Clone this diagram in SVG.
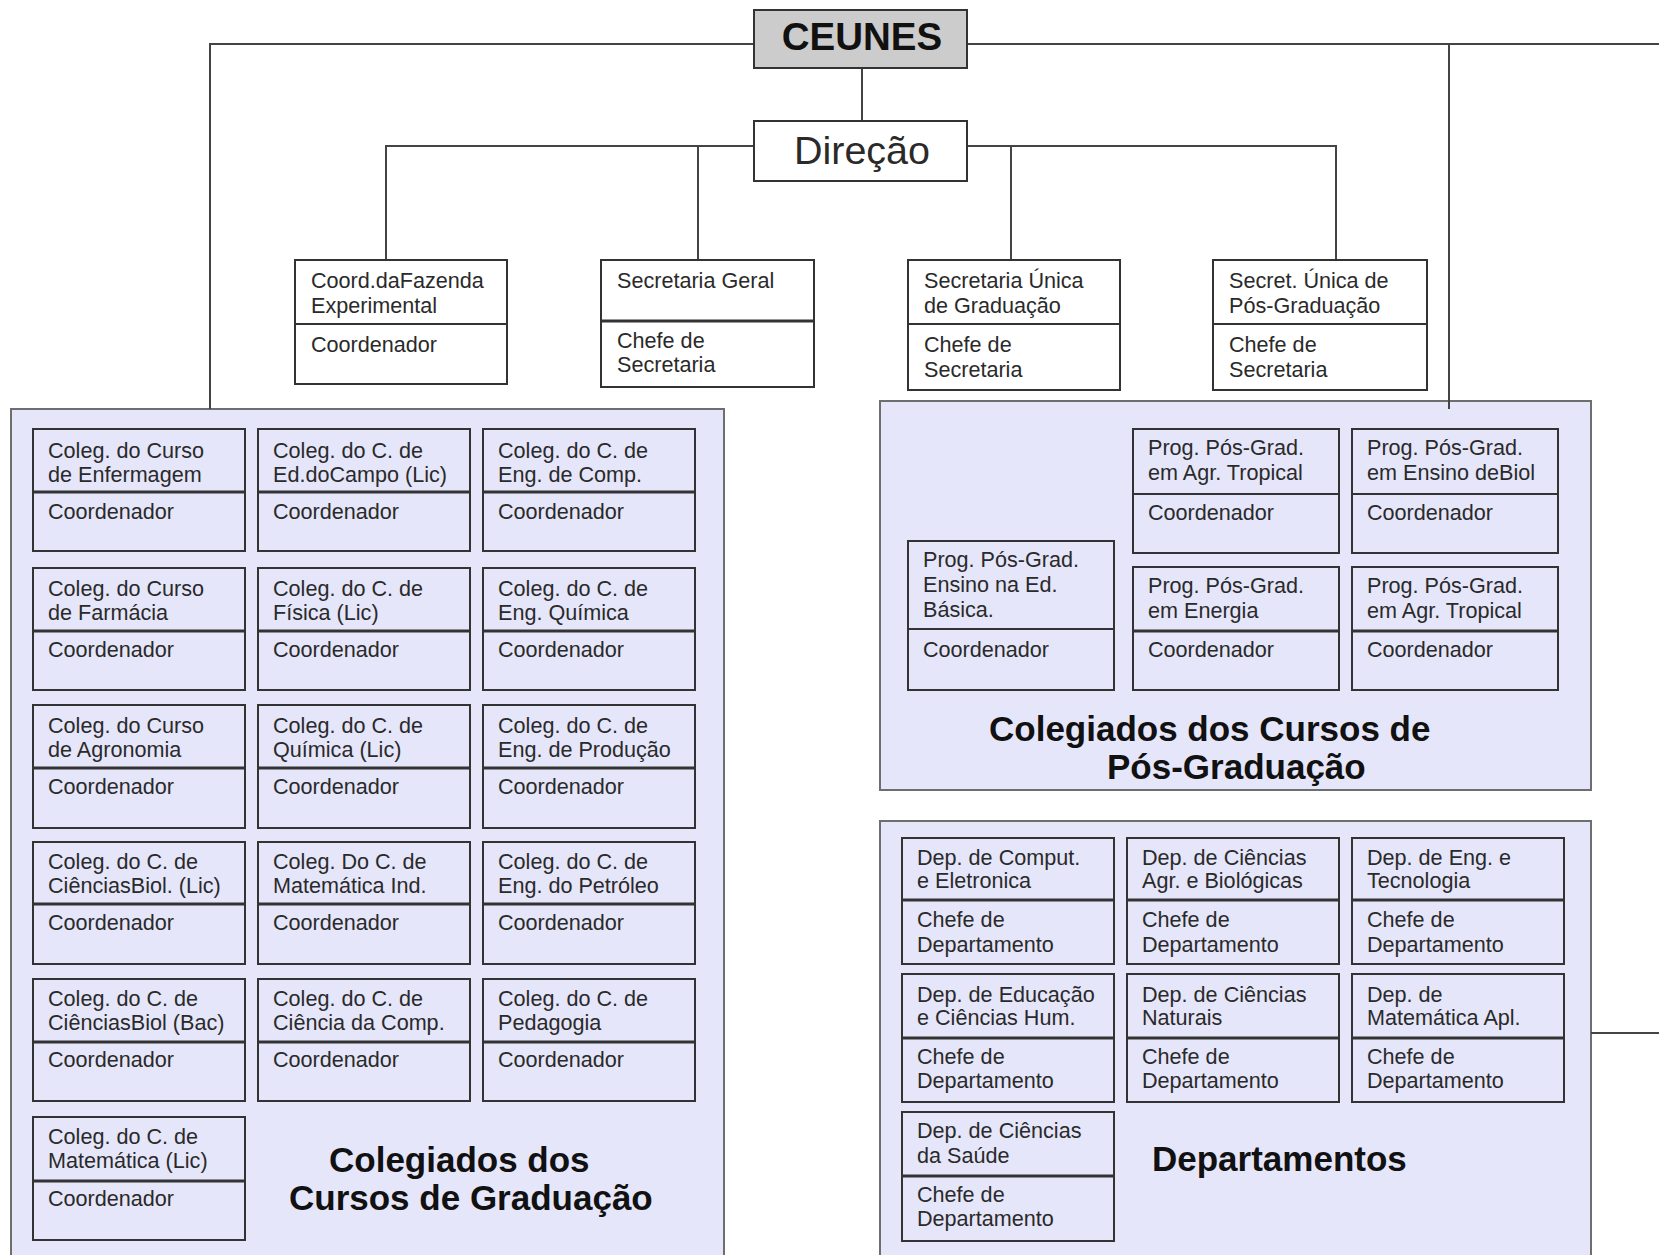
<svg xmlns="http://www.w3.org/2000/svg" width="1659" height="1255" viewBox="0 0 1659 1255">
<style>
text{font-family:"Liberation Sans",Arial,sans-serif;fill:#2a2a2a}
.t{font-size:21.6px}
.title{font-size:35px;font-weight:bold;fill:#111}
.cont{fill:#e6e6fa;stroke:#6e6e6e;stroke-width:2}
.box{fill:none;stroke:#333;stroke-width:2}
.wbox{fill:#fff;stroke:#333;stroke-width:2}
.dv{stroke:#333;stroke-width:3}
.dvt{stroke:#333;stroke-width:2}
.con{fill:none;stroke:#444;stroke-width:2}
</style>
<rect width="1659" height="1255" fill="#fff"/>

<g id="cont-grad">
<rect class="cont" x="11" y="409" width="713" height="860"/>
<text class="title" x="329" y="1172">Colegiados dos</text>
<text class="title" x="289" y="1210">Cursos de Graduação</text>
</g>
<g id="cont-pos">
<rect class="cont" x="880" y="401" width="711" height="389"/>
<text class="title" x="989" y="741">Colegiados dos Cursos de</text>
<text class="title" x="1107" y="779">Pós-Graduação</text>
</g>
<g id="cont-dep">
<rect class="cont" x="880" y="821" width="711" height="450"/>
<text class="title" x="1152" y="1171">Departamentos</text>
</g>

<g id="connectors">
<path class="con" d="M210 409V44H754"/>
<path class="con" d="M967 44H1659"/>
<path class="con" d="M1449 44V409"/>
<path class="con" d="M862 68V121"/>
<path class="con" d="M386 260V146H754"/>
<path class="con" d="M698 146V260"/>
<path class="con" d="M967 146H1336V260"/>
<path class="con" d="M1011 146V260"/>
<path class="con" d="M1591 1033H1659"/>
</g>

<g id="ceunes">
<rect x="754" y="10" width="213" height="58" fill="#cccccc" stroke="#333" stroke-width="2"/>
<text x="862" y="50" text-anchor="middle" style="font-size:38.5px;font-weight:bold;fill:#111">CEUNES</text>
</g>
<g id="direcao">
<rect class="wbox" x="754" y="121" width="213" height="60"/>
<text x="862" y="164" text-anchor="middle" style="font-size:39.5px">Direção</text>
</g>

<g id="coord-fazenda">
<rect class="wbox" x="295" y="260" width="212" height="124"/>
<line class="dvt" x1="295" y1="324" x2="507" y2="324"/>
<text class="t" x="311" y="288">Coord.daFazenda</text>
<text class="t" x="311" y="313">Experimental</text>
<text class="t" x="311" y="352">Coordenador</text>
</g>
<g id="sec-geral">
<rect class="wbox" x="601" y="260" width="213" height="127"/>
<line class="dv" x1="601" y1="321" x2="814" y2="321"/>
<text class="t" x="617" y="288">Secretaria Geral</text>
<text class="t" x="617" y="348">Chefe de</text>
<text class="t" x="617" y="372">Secretaria</text>
</g>
<g id="sec-grad">
<rect class="wbox" x="908" y="260" width="212" height="130"/>
<line class="dvt" x1="908" y1="324" x2="1120" y2="324"/>
<text class="t" x="924" y="288">Secretaria Única</text>
<text class="t" x="924" y="313">de Graduação</text>
<text class="t" x="924" y="352">Chefe de</text>
<text class="t" x="924" y="377">Secretaria</text>
</g>
<g id="sec-pos">
<rect class="wbox" x="1213" y="260" width="214" height="130"/>
<line class="dvt" x1="1213" y1="324" x2="1427" y2="324"/>
<text class="t" x="1229" y="288">Secret. Única de</text>
<text class="t" x="1229" y="313">Pós-Graduação</text>
<text class="t" x="1229" y="352">Chefe de</text>
<text class="t" x="1229" y="377">Secretaria</text>
</g>

<!-- Graduação colegiados -->
<g id="g-enf"><rect class="box" x="33" y="429" width="212" height="122"/><line class="dv" x1="33" y1="492" x2="245" y2="492"/><text class="t" x="48" y="458">Coleg. do Curso</text><text class="t" x="48" y="482">de Enfermagem</text><text class="t" x="48" y="519">Coordenador</text></g>
<g id="g-edcampo"><rect class="box" x="258" y="429" width="212" height="122"/><line class="dv" x1="258" y1="492" x2="470" y2="492"/><text class="t" x="273" y="458">Coleg. do C. de</text><text class="t" x="273" y="482">Ed.doCampo (Lic)</text><text class="t" x="273" y="519">Coordenador</text></g>
<g id="g-engcomp"><rect class="box" x="483" y="429" width="212" height="122"/><line class="dv" x1="483" y1="492" x2="695" y2="492"/><text class="t" x="498" y="458">Coleg. do C. de</text><text class="t" x="498" y="482">Eng. de Comp.</text><text class="t" x="498" y="519">Coordenador</text></g>

<g id="g-farm"><rect class="box" x="33" y="568" width="212" height="122"/><line class="dv" x1="33" y1="631" x2="245" y2="631"/><text class="t" x="48" y="596">Coleg. do Curso</text><text class="t" x="48" y="620">de Farmácia</text><text class="t" x="48" y="657">Coordenador</text></g>
<g id="g-fis"><rect class="box" x="258" y="568" width="212" height="122"/><line class="dv" x1="258" y1="631" x2="470" y2="631"/><text class="t" x="273" y="596">Coleg. do C. de</text><text class="t" x="273" y="620">Física (Lic)</text><text class="t" x="273" y="657">Coordenador</text></g>
<g id="g-engq"><rect class="box" x="483" y="568" width="212" height="122"/><line class="dv" x1="483" y1="631" x2="695" y2="631"/><text class="t" x="498" y="596">Coleg. do C. de</text><text class="t" x="498" y="620">Eng. Química</text><text class="t" x="498" y="657">Coordenador</text></g>

<g id="g-agro"><rect class="box" x="33" y="705" width="212" height="123"/><line class="dv" x1="33" y1="768" x2="245" y2="768"/><text class="t" x="48" y="733">Coleg. do Curso</text><text class="t" x="48" y="757">de Agronomia</text><text class="t" x="48" y="794">Coordenador</text></g>
<g id="g-quim"><rect class="box" x="258" y="705" width="212" height="123"/><line class="dv" x1="258" y1="768" x2="470" y2="768"/><text class="t" x="273" y="733">Coleg. do C. de</text><text class="t" x="273" y="757">Química (Lic)</text><text class="t" x="273" y="794">Coordenador</text></g>
<g id="g-engprod"><rect class="box" x="483" y="705" width="212" height="123"/><line class="dv" x1="483" y1="768" x2="695" y2="768"/><text class="t" x="498" y="733">Coleg. do C. de</text><text class="t" x="498" y="757">Eng. de Produção</text><text class="t" x="498" y="794">Coordenador</text></g>

<g id="g-biollic"><rect class="box" x="33" y="842" width="212" height="122"/><line class="dv" x1="33" y1="904" x2="245" y2="904"/><text class="t" x="48" y="869">Coleg. do C. de</text><text class="t" x="48" y="893">CiênciasBiol. (Lic)</text><text class="t" x="48" y="930">Coordenador</text></g>
<g id="g-matind"><rect class="box" x="258" y="842" width="212" height="122"/><line class="dv" x1="258" y1="904" x2="470" y2="904"/><text class="t" x="273" y="869">Coleg. Do C. de</text><text class="t" x="273" y="893">Matemática Ind.</text><text class="t" x="273" y="930">Coordenador</text></g>
<g id="g-petro"><rect class="box" x="483" y="842" width="212" height="122"/><line class="dv" x1="483" y1="904" x2="695" y2="904"/><text class="t" x="498" y="869">Coleg. do C. de</text><text class="t" x="498" y="893">Eng. do Petróleo</text><text class="t" x="498" y="930">Coordenador</text></g>

<g id="g-biolbac"><rect class="box" x="33" y="979" width="212" height="122"/><line class="dv" x1="33" y1="1042" x2="245" y2="1042"/><text class="t" x="48" y="1006">Coleg. do C. de</text><text class="t" x="48" y="1030">CiênciasBiol (Bac)</text><text class="t" x="48" y="1067">Coordenador</text></g>
<g id="g-cc"><rect class="box" x="258" y="979" width="212" height="122"/><line class="dv" x1="258" y1="1042" x2="470" y2="1042"/><text class="t" x="273" y="1006">Coleg. do C. de</text><text class="t" x="273" y="1030">Ciência da Comp.</text><text class="t" x="273" y="1067">Coordenador</text></g>
<g id="g-ped"><rect class="box" x="483" y="979" width="212" height="122"/><line class="dv" x1="483" y1="1042" x2="695" y2="1042"/><text class="t" x="498" y="1006">Coleg. do C. de</text><text class="t" x="498" y="1030">Pedagogia</text><text class="t" x="498" y="1067">Coordenador</text></g>

<g id="g-matlic"><rect class="box" x="33" y="1117" width="212" height="123"/><line class="dv" x1="33" y1="1181" x2="245" y2="1181"/><text class="t" x="48" y="1144">Coleg. do C. de</text><text class="t" x="48" y="1168">Matemática (Lic)</text><text class="t" x="48" y="1206">Coordenador</text></g>

<!-- Pós-graduação -->
<g id="p-edbas"><rect class="box" x="908" y="541" width="206" height="149"/><line class="dvt" x1="908" y1="629" x2="1114" y2="629"/><text class="t" x="923" y="567">Prog. Pós-Grad.</text><text class="t" x="923" y="592">Ensino na Ed.</text><text class="t" x="923" y="617">Básica.</text><text class="t" x="923" y="657">Coordenador</text></g>
<g id="p-agr1"><rect class="box" x="1133" y="429" width="206" height="124"/><line class="dvt" x1="1133" y1="494" x2="1339" y2="494"/><text class="t" x="1148" y="455">Prog. Pós-Grad.</text><text class="t" x="1148" y="480">em Agr. Tropical</text><text class="t" x="1148" y="520">Coordenador</text></g>
<g id="p-biol"><rect class="box" x="1352" y="429" width="206" height="124"/><line class="dvt" x1="1352" y1="494" x2="1558" y2="494"/><text class="t" x="1367" y="455">Prog. Pós-Grad.</text><text class="t" x="1367" y="480">em Ensino deBiol</text><text class="t" x="1367" y="520">Coordenador</text></g>
<g id="p-energia"><rect class="box" x="1133" y="567" width="206" height="123"/><line class="dv" x1="1133" y1="631" x2="1339" y2="631"/><text class="t" x="1148" y="593">Prog. Pós-Grad.</text><text class="t" x="1148" y="618">em Energia</text><text class="t" x="1148" y="657">Coordenador</text></g>
<g id="p-agr2"><rect class="box" x="1352" y="567" width="206" height="123"/><line class="dv" x1="1352" y1="631" x2="1558" y2="631"/><text class="t" x="1367" y="593">Prog. Pós-Grad.</text><text class="t" x="1367" y="618">em Agr. Tropical</text><text class="t" x="1367" y="657">Coordenador</text></g>

<!-- Departamentos -->
<g id="d-comp"><rect class="box" x="902" y="838" width="212" height="126"/><line class="dv" x1="902" y1="900" x2="1114" y2="900"/><text class="t" x="917" y="865">Dep. de Comput.</text><text class="t" x="917" y="888">e Eletronica</text><text class="t" x="917" y="927">Chefe de</text><text class="t" x="917" y="952">Departamento</text></g>
<g id="d-agr"><rect class="box" x="1127" y="838" width="212" height="126"/><line class="dv" x1="1127" y1="900" x2="1339" y2="900"/><text class="t" x="1142" y="865">Dep. de Ciências</text><text class="t" x="1142" y="888">Agr. e Biológicas</text><text class="t" x="1142" y="927">Chefe de</text><text class="t" x="1142" y="952">Departamento</text></g>
<g id="d-eng"><rect class="box" x="1352" y="838" width="212" height="126"/><line class="dv" x1="1352" y1="900" x2="1564" y2="900"/><text class="t" x="1367" y="865">Dep. de Eng. e</text><text class="t" x="1367" y="888">Tecnologia</text><text class="t" x="1367" y="927">Chefe de</text><text class="t" x="1367" y="952">Departamento</text></g>
<g id="d-edu"><rect class="box" x="902" y="974" width="212" height="128"/><line class="dv" x1="902" y1="1038" x2="1114" y2="1038"/><text class="t" x="917" y="1002">Dep. de Educação</text><text class="t" x="917" y="1025">e Ciências Hum.</text><text class="t" x="917" y="1064">Chefe de</text><text class="t" x="917" y="1088">Departamento</text></g>
<g id="d-nat"><rect class="box" x="1127" y="974" width="212" height="128"/><line class="dv" x1="1127" y1="1038" x2="1339" y2="1038"/><text class="t" x="1142" y="1002">Dep. de Ciências</text><text class="t" x="1142" y="1025">Naturais</text><text class="t" x="1142" y="1064">Chefe de</text><text class="t" x="1142" y="1088">Departamento</text></g>
<g id="d-mat"><rect class="box" x="1352" y="974" width="212" height="128"/><line class="dv" x1="1352" y1="1038" x2="1564" y2="1038"/><text class="t" x="1367" y="1002">Dep. de</text><text class="t" x="1367" y="1025">Matemática Apl.</text><text class="t" x="1367" y="1064">Chefe de</text><text class="t" x="1367" y="1088">Departamento</text></g>
<g id="d-saude"><rect class="box" x="902" y="1112" width="212" height="129"/><line class="dv" x1="902" y1="1176" x2="1114" y2="1176"/><text class="t" x="917" y="1138">Dep. de Ciências</text><text class="t" x="917" y="1163">da Saúde</text><text class="t" x="917" y="1202">Chefe de</text><text class="t" x="917" y="1226">Departamento</text></g>
</svg>
